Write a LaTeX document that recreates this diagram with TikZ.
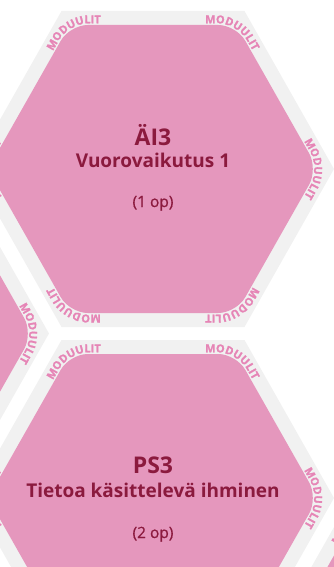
\documentclass[tikz,border=0pt]{standalone}
\usepackage{fontspec}
\setmainfont{Open Sans}
\newfontfamily\credfont{Open Sans}[FakeBold=0.9]
\newfontfamily\modfontfam{Open Sans}[FakeBold=1.5]
\newcommand\modlabelfont{\modfontfam\bfseries\fontsize{11}{11}\selectfont}
\usetikzlibrary{calc,decorations.text}
\definecolor{hexpink}{HTML}{E597BD}
\definecolor{hexgray}{HTML}{F1F1F1}
\definecolor{modpink}{HTML}{E685B6}
\definecolor{titlered}{HTML}{8B1A3E}
\begin{document}
\begin{tikzpicture}[x=1pt,y=-1pt,
  hexouter/.style={fill=hexgray},
  hexinner/.style={fill=hexpink, rounded corners=18pt},
  hextitle/.style={text=titlered, font=\bfseries\fontsize{23}{23}\selectfont, anchor=base, inner sep=0pt},
  hexsub/.style={text=titlered, font=\bfseries\fontsize{19}{19}\selectfont, anchor=base, inner sep=0pt},
  hexcredits/.style={text=titlered, font=\credfont\fontsize{15.5}{15.5}\selectfont, anchor=base, inner sep=0pt},
  modlabel/.style={decorate, rounded corners=19.5pt,
    decoration={text along path, text align=center, text color=modpink,
      text={|\modlabelfont|MODUULIT}}}
]
\useasboundingbox (0,0) rectangle (334,567);
\begin{scope}
\clip (0,0) rectangle (334,567);
\foreach \n/\cx/\cy in {A/153/169, B/153/498, C/-132/333.5, D/438/663} {
  \fill[hexouter] (\cx-181,\cy) -- (\cx-91.5,\cy-158) -- (\cx+91.5,\cy-158)
     -- (\cx+181,\cy) -- (\cx+91.5,\cy+158) -- (\cx-91.5,\cy+158) -- cycle;
  \fill[hexinner] (\cx-165,\cy) -- (\cx-83.3,\cy-144) -- (\cx+83.3,\cy-144)
     -- (\cx+165,\cy) -- (\cx+83.3,\cy+144) -- (\cx-83.3,\cy+144) -- cycle;
  \coordinate (\n0) at (\cx-166.8,\cy);
  \coordinate (\n1) at (\cx-84.3,\cy-145.7);
  \coordinate (\n2) at (\cx+84.3,\cy-145.7);
  \coordinate (\n3) at (\cx+166.8,\cy);
  \coordinate (\n4) at (\cx+84.3,\cy+145.7);
  \coordinate (\n5) at (\cx-84.3,\cy+145.7);
  \modlabelfont
  \foreach \k/\p/\q in {0/5/1,1/0/2,2/1/3,3/2/4,4/3/5,5/4/0} {
    \path[modlabel] ($(\n\k)!45pt!(\n\p)$) -- (\n\k) -- ($(\n\k)!45pt!(\n\q)$);
  }
}
\end{scope}
\node[hextitle] (ai3) at (153,146) {ÄI3};
\node[hexsub] (ai3name) at (153,167) {Vuorovaikutus 1};
\node[hexcredits] (ai3op) at (153,207) {(1 op)};
\node[hextitle] (ps3) at (153,473) {PS3};
\node[hexsub] (ps3name) at (153,497) {Tietoa käsittelevä ihminen};
\node[hexcredits] (ps3op) at (153,538) {(2 op)};
\end{tikzpicture}
\end{document}
